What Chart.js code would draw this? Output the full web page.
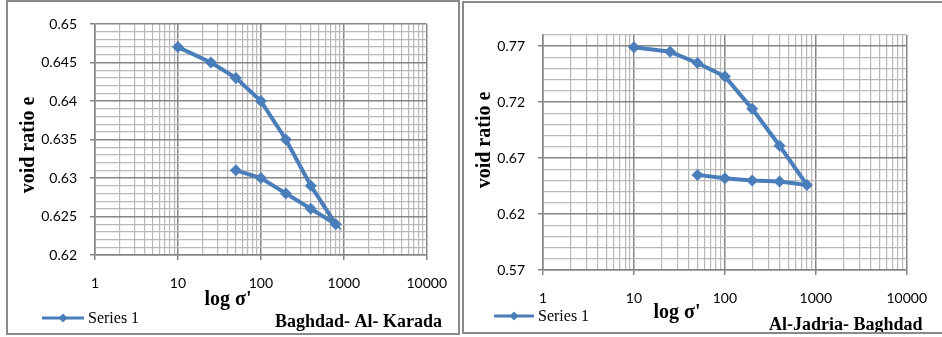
<!DOCTYPE html>
<html>
<head>
<meta charset="utf-8">
<title>e - log p curves</title>
<script src="https://cdn.jsdelivr.net/npm/chart.js@4.4.0/dist/chart.umd.min.js"></script>
<style>
    html, body { margin: 0; padding: 0; background: #fff; }
    #wrap { position: relative; width: 942px; height: 337px; overflow: hidden; }
    .frame { position: absolute; border: 2px solid #8a8a8a; box-sizing: border-box; pointer-events: none; }
    .box { position: absolute; top: 0; height: 337px; }
</style>
</head>
<body>
<div id="wrap">
    <div class="box" style="left:0;width:462px"><canvas id="karada-chart"></canvas></div>
    <div class="box" style="left:463px;width:479px"><canvas id="jadria-chart"></canvas></div>
    <div class="frame" style="left:6px;top:0;width:454px;height:335px"></div>
    <div class="frame" style="left:462px;top:1px;width:490px;height:333px"></div>
</div>
<script>
// ---------------------------------------------------------------------------
// Data
// ---------------------------------------------------------------------------

const stressSteps = [10, 25, 50, 100, 200, 400, 800, 400, 200, 100, 50];
const karadaVoid = [0.647, 0.645, 0.643, 0.640, 0.635, 0.629, 0.624, 0.626, 0.628, 0.630, 0.631];
const jadriaVoid = [0.769, 0.765, 0.755, 0.743, 0.714, 0.681, 0.646, 0.649, 0.650, 0.652, 0.655];

const xTickLabels = [1, 10, 100, 1000, 10000];
const karadaYLabels = [0.62, 0.625, 0.63, 0.635, 0.64, 0.645, 0.65];
const jadriaYLabels = [0.57, 0.62, 0.67, 0.72, 0.77];

const SERIES_NAME = "Series 1";
const LINE_BLUE = "#4a7ebb";
const MAJOR_GRID = "#858585";
const MINOR_GRID = "#b8b8b8";

// ---------------------------------------------------------------------------
// Helpers
// ---------------------------------------------------------------------------

function isLabelled(value, labels) {
    return labels.some((v) => Math.abs(v - value) < 1e-9);
}

// gridlines every minor step between min and max
function linearTicks(min, max, step) {
    const out = [];
    const n = Math.round((max - min) / step);
    for (let i = 0; i <= n; i++) {
        out.push({ value: +(min + i * step).toFixed(4) });
    }
    return out;
}

// 1,2..9,10,20..90,... up to the last decade label
function logTicks(decades) {
    const out = [];
    decades.slice(0, -1).forEach((d) => {
        for (let k = 1; k <= 9; k++) out.push({ value: k * d });
    });
    out.push({ value: decades[decades.length - 1] });
    return out;
}

function gridStyle(labels) {
    return {
        color: (c) => (c.tick && isLabelled(c.tick.value, labels) ? MAJOR_GRID : MINOR_GRID),
        lineWidth: (c) => (c.tick && isLabelled(c.tick.value, labels) ? 1.5 : 1.2),
        tickColor: (c) => (c.tick && isLabelled(c.tick.value, labels) ? MAJOR_GRID : "rgba(0,0,0,0)"),
        tickLength: 5,
    };
}

// axis titles, legend and site name drawn where Excel left them
const captionsPlugin = {
    id: "captions",
    afterDraw(chart, args, opts) {
        const c = chart.ctx;
        c.save();
        c.fillStyle = "#000";
        (opts.texts || []).forEach((t) => {
            c.save();
            c.font = t.font;
            c.textAlign = t.align || "center";
            c.textBaseline = "middle";
            c.translate(t.x, t.y);
            if (t.rotate) c.rotate(t.rotate);
            c.fillText(t.text, 0, 0);
            c.restore();
        });
        const lg = opts.legend;
        if (lg) {
            c.strokeStyle = LINE_BLUE;
            c.lineWidth = 3;
            c.beginPath();
            c.moveTo(lg.x1, lg.y);
            c.lineTo(lg.x2, lg.y);
            c.stroke();
            const mx = (lg.x1 + lg.x2) / 2, r = 4.5;
            c.fillStyle = LINE_BLUE;
            c.beginPath();
            c.moveTo(mx, lg.y - r);
            c.lineTo(mx + r, lg.y);
            c.lineTo(mx, lg.y + r);
            c.lineTo(mx - r, lg.y);
            c.closePath();
            c.fill();
            c.fillStyle = "#000";
            c.font = '16px "Liberation Serif"';
            c.textAlign = "left";
            c.textBaseline = "middle";
            c.fillText(SERIES_NAME, lg.x2 + 4, lg.y + 1);
        }
        c.restore();
    },
};

function makeChart(id, voids, yMin, yMax, yStep, yLabels, box) {
    const points = stressSteps.map((s, i) => ({ x: s, y: voids[i] }));
    return new Chart(document.getElementById(id), {
        type: "scatter",
        data: {
            datasets: [{
                label: SERIES_NAME,
                data: points,
                showLine: true,
                borderColor: LINE_BLUE,
                backgroundColor: LINE_BLUE,
                borderWidth: 4,
                pointStyle: "rectRot",
                pointRadius: 6,
                pointBorderWidth: 0,
                tension: 0,
            }],
        },
        options: {
            responsive: true,
            maintainAspectRatio: false,
            animation: false,
            layout: { padding: { left: 0, top: box.top, right: box.right, bottom: 0 } },
            plugins: {
                legend: { display: false },
                tooltip: { enabled: false },
                captions: box.captions,
            },
            scales: {
                x: {
                    type: "logarithmic",
                    min: xTickLabels[0],
                    max: xTickLabels[xTickLabels.length - 1],
                    afterBuildTicks: (s) => { s.ticks = logTicks(xTickLabels); },
                    afterFit: (s) => { s.height = box.xHeight; },
                    ticks: {
                        autoSkip: false,
                        maxRotation: 0,
                        padding: 15,
                        color: "#000",
                        font: { family: "Lato", size: 14 },
                        callback: (v) => (isLabelled(v, xTickLabels) ? String(v) : ""),
                    },
                    grid: gridStyle(xTickLabels),
                    border: { display: true, color: MAJOR_GRID, width: 1.5 },
                },
                y: {
                    min: yMin,
                    max: yMax,
                    afterBuildTicks: (s) => { s.ticks = linearTicks(yMin, yMax, yStep); },
                    afterFit: (s) => { s.width = box.yWidth; },
                    ticks: {
                        autoSkip: false,
                        padding: 13,
                        color: "#000",
                        font: { family: "Lato", size: 14 },
                        callback: (v) => (isLabelled(v, yLabels) ? String(+v.toFixed(3)) : ""),
                    },
                    grid: gridStyle(yLabels),
                    border: { display: true, color: MAJOR_GRID, width: 1.5 },
                },
            },
        },
        plugins: [captionsPlugin],
    });
}

// ---------------------------------------------------------------------------
// Charts
// ---------------------------------------------------------------------------

const TITLE_FONT = 'bold 20px "Liberation Serif"';
const SITE_FONT = 'bold 18px "Liberation Serif"';

makeChart("karada-chart", karadaVoid, 0.62, 0.65, 0.001, karadaYLabels, {
    top: 24, right: 34, yWidth: 95, xHeight: 82,
    captions: {
        texts: [
            { text: "void ratio e", x: 29, y: 145, font: TITLE_FONT, rotate: -Math.PI / 2 },
            { text: "log σ'", x: 228, y: 300, font: TITLE_FONT },
            { text: "Baghdad- Al- Karada", x: 275, y: 322, font: SITE_FONT, align: "left" },
        ],
        legend: { x1: 42, x2: 84, y: 318 },
    },
});

makeChart("jadria-chart", jadriaVoid, 0.57, 0.78, 0.01, jadriaYLabels, {
    top: 35, right: 34, yWidth: 80, xHeight: 67,
    captions: {
        texts: [
            { text: "void ratio e", x: 22, y: 140, font: TITLE_FONT, rotate: -Math.PI / 2 },
            { text: "log σ'", x: 214, y: 313, font: TITLE_FONT },
            { text: "Al-Jadria- Baghdad", x: 306, y: 325, font: SITE_FONT, align: "left" },
        ],
        legend: { x1: 31, x2: 71, y: 316 },
    },
});
</script>
</body>
</html>
